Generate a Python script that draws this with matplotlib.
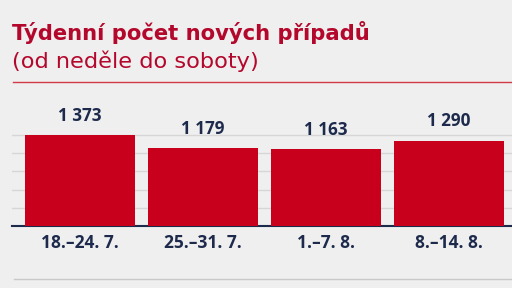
import matplotlib
matplotlib.use("Agg")
import matplotlib.pyplot as plt

# weekly new cases, Sunday to Saturday
weeks = ["18.–24. 7.", "25.–31. 7.", "1.–7. 8.", "8.–14. 8."]
cases = [1373, 1179, 1163, 1290]
value_labels = ["1 373", "1 179", "1 163", "1 290"]

bg = "#efefef"
red = "#c8001c"
title_red = "#b4072c"
navy = "#1d2a4c"

plt.rcParams['font.family'] = ['Open Sans', 'DejaVu Sans']

fig = plt.figure(figsize=(5.12, 2.88), dpi=100)
fig.patch.set_facecolor(bg)

W, H = 512, 288
# axes placed in pixels: left 12, right 512, baseline y=226, top y=100
ax = fig.add_axes([12 / W, (H - 226) / H, 500 / W, 126 / H])
ax.set_facecolor(bg)

x = list(range(len(weeks)))
ax.bar(x, cases, width=0.894, color=red, zorder=3)
for xi, v, lab in zip(x, cases, value_labels):
    ax.text(xi, v + 160, lab, ha="center", va="bottom", fontsize=12.3,
            fontweight="bold", color=navy, zorder=4)

ax.set_xlim(-0.553, 3.51)
ax.set_ylim(0, 126 * 15.13)
ax.set_yticks([275, 550, 825, 1100, 1375])
ax.yaxis.grid(True, color="#d6d6d6", linewidth=1)
ax.set_axisbelow(True)
ax.tick_params(axis="y", left=False, labelleft=False)
ax.tick_params(axis="x", length=0, pad=6)
ax.set_xticks(x)
ax.set_xticklabels(weeks, fontsize=12.5, fontweight="bold", color=navy)
for s in ["top", "right", "left"]:
    ax.spines[s].set_visible(False)
ax.spines["bottom"].set_color(navy)
ax.spines["bottom"].set_linewidth(1.5)

# title block
fig.text(12 / W, 1 - 40.5 / H, "Týdenní počet nových případů", fontsize=15.2,
         fontweight="bold", color=title_red, ha="left", va="baseline",
         family="DejaVu Sans")
fig.text(12 / W, 1 - 67.5 / H, "(od neděle do soboty)", fontsize=16.2,
         color=title_red, ha="left", va="baseline", family="DejaVu Sans")
fig.add_artist(plt.Line2D([13 / W, 1], [1 - 82 / H, 1 - 82 / H],
                          color="#d23a4a", linewidth=1))
fig.add_artist(plt.Line2D([14 / W, 1], [1 - 279 / H, 1 - 279 / H],
                          color="#c9c9c9", linewidth=1))

fig.savefig("out.png", dpi=100, facecolor=bg)
